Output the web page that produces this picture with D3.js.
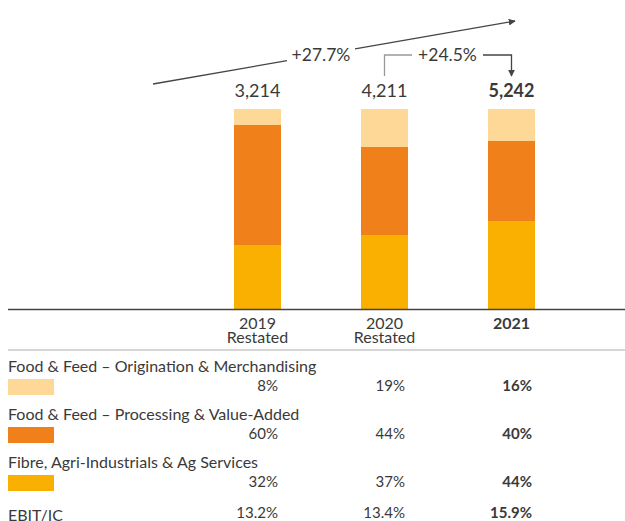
<!DOCTYPE html>
<html>
<head>
<meta charset="utf-8">
<script src="https://cdn.jsdelivr.net/npm/d3@7"></script>
<style>
  html, body { margin: 0; padding: 0; background: #fff; }
  svg { display: block; font-family: Lato, "Open Sans", sans-serif; }
</style>
</head>
<body>
<svg id="chart" width="625" height="521"></svg>
<script>
// Contribution by segment (% of total), stacked bottom-to-top
const years = ["2019", "2020", "2021"];
const yearSubs = ["Restated", "Restated", ""];
const segments = [
  "Fibre, Agri-Industrials & Ag Services",
  "Food & Feed – Processing & Value-Added",
  "Food & Feed – Origination & Merchandising"
];
const fibreShare = [32, 37, 44];
const processingShare = [60, 44, 40];
const originationShare = [8, 19, 16];
const totals = [3214, 4211, 5242];
const ebitIc = [13.2, 13.4, 15.9];
const growthTotal = "+27.7%";
const growthYear = "+24.5%";
const colors = ["#FAB000", "#F0801A", "#FDD896"];

const svg = d3.select("#chart");
const ink = "#3a3a3a";

const x = d3.scalePoint().domain(years).range([257.5, 511.5]);
const barW = 47;
const y = d3.scaleLinear().domain([0, 100]).range([309, 109]);

const rows = years.map((yr, i) => ({
  year: yr, fibre: fibreShare[i], processing: processingShare[i], origination: originationShare[i]
}));
const keys = ["fibre", "processing", "origination"];
const stack = d3.stack().keys(keys)(rows);

// stacked bars
svg.append("g").selectAll("g").data(stack).join("g")
  .attr("fill", (d, i) => colors[i])
  .selectAll("rect").data(d => d).join("rect")
  .attr("x", d => x(d.data.year) - barW / 2)
  .attr("width", barW)
  .attr("y", d => y(d[1]))
  .attr("height", d => y(d[0]) - y(d[1]));

// baseline
svg.append("line").attr("x1", 8).attr("x2", 625).attr("y1", y(0) + 0.5).attr("y2", y(0) + 0.5)
  .attr("stroke", "#444").attr("stroke-width", 1.5);

// year labels
svg.append("g").selectAll("text").data(years).join("text")
  .attr("x", d => x(d)).attr("y", 329)
  .attr("text-anchor", "middle").attr("fill", ink)
  .style("font-size", "16px")
  .style("font-weight", (d, i) => i === 2 ? 700 : 400)
  .text(d => d);
svg.append("g").selectAll("text").data(yearSubs).join("text")
  .attr("x", (d, i) => x(years[i])).attr("y", 343)
  .attr("text-anchor", "middle").attr("fill", ink)
  .style("font-size", "16px")
  .text(d => d);

// divider
svg.append("line").attr("x1", 8).attr("x2", 625).attr("y1", 350).attr("y2", 350)
  .attr("stroke", "#c8c8c8").attr("stroke-width", 1.5);

// totals above bars
svg.append("g").selectAll("text").data(totals).join("text")
  .attr("x", (d, i) => x(years[i])).attr("y", 97)
  .attr("text-anchor", "middle").attr("fill", ink)
  .style("font-size", "18px")
  .style("font-weight", (d, i) => i === 2 ? 700 : 400)
  .text(d => d3.format(",")(d));

// legend / table rows
const tableOrder = [2, 1, 0];
const shares = [fibreShare, processingShare, originationShare];
tableOrder.forEach((s, r) => {
  const base = 372 + r * 48;
  svg.append("text").attr("x", 8).attr("y", base)
    .attr("fill", ink).style("font-size", "16px").text(segments[s]);
  svg.append("rect").attr("x", 8).attr("y", base + 7).attr("width", 46).attr("height", 16)
    .attr("fill", colors[s]);
  svg.append("g").selectAll("text").data(shares[s]).join("text")
    .attr("x", (d, i) => x(years[i]) + barW / 2 - 3).attr("y", base + 19)
    .attr("text-anchor", "end").attr("fill", ink)
    .style("font-size", "15px")
    .style("font-weight", (d, i) => i === 2 ? 700 : 400)
    .text(d => d + "%");
});

// EBIT/IC row
svg.append("text").attr("x", 8).attr("y", 521).attr("fill", ink)
  .style("font-size", "16px").text("EBIT/IC");
svg.append("g").selectAll("text").data(ebitIc).join("text")
  .attr("x", (d, i) => x(years[i]) + barW / 2 - 3).attr("y", 518)
  .attr("text-anchor", "end").attr("fill", ink)
  .style("font-size", "15px")
  .style("font-weight", (d, i) => i === 2 ? 700 : 400)
  .text(d => d.toFixed(1) + "%");

// arrow marker
const defs = svg.append("defs");
defs.append("marker").attr("id", "head").attr("viewBox", "0 0 10 10")
  .attr("refX", 9).attr("refY", 5).attr("markerWidth", 7).attr("markerHeight", 7)
  .attr("markerUnits", "userSpaceOnUse").attr("orient", "auto")
  .append("path").attr("d", "M0,0 L10,5 L0,10 Z").attr("fill", "#444");

// overall growth arrow: 2019 → 2021
const ax0 = 153, ay0 = 84, ax1 = 515, ay1 = 21;
const slope = (ay1 - ay0) / (ax1 - ax0);
const lineY = xx => ay0 + slope * (xx - ax0);
const gapL = 287, gapR = 355;
svg.append("line").attr("x1", ax0).attr("y1", ay0).attr("x2", gapL).attr("y2", lineY(gapL))
  .attr("stroke", "#444").attr("stroke-width", 1.3);
svg.append("line").attr("x1", gapR).attr("y1", lineY(gapR)).attr("x2", ax1).attr("y2", ay1)
  .attr("stroke", "#444").attr("stroke-width", 1.3).attr("marker-end", "url(#head)");
svg.append("text").attr("x", (gapL + gapR) / 2).attr("y", lineY((gapL + gapR) / 2) + 6.5)
  .attr("text-anchor", "middle").attr("fill", ink).style("font-size", "17.5px").text(growthTotal);

// year-on-year bracket: 2020 → 2021
const bx0 = x("2020"), bx1 = x("2021"), by = 55, bBottom = 76;
svg.append("path").attr("d", `M${bx0},${bBottom} V${by} H${412}`)
  .attr("fill", "none").attr("stroke", "#999").attr("stroke-width", 1.3);
svg.append("path").attr("d", `M${483},${by} H${bx1} V${bBottom}`)
  .attr("fill", "none").attr("stroke", "#444").attr("stroke-width", 1.3).attr("marker-end", "url(#head)");
svg.append("text").attr("x", (412 + 483) / 2).attr("y", by + 6)
  .attr("text-anchor", "middle").attr("fill", ink).style("font-size", "17.5px").text(growthYear);
</script>
</body>
</html>
